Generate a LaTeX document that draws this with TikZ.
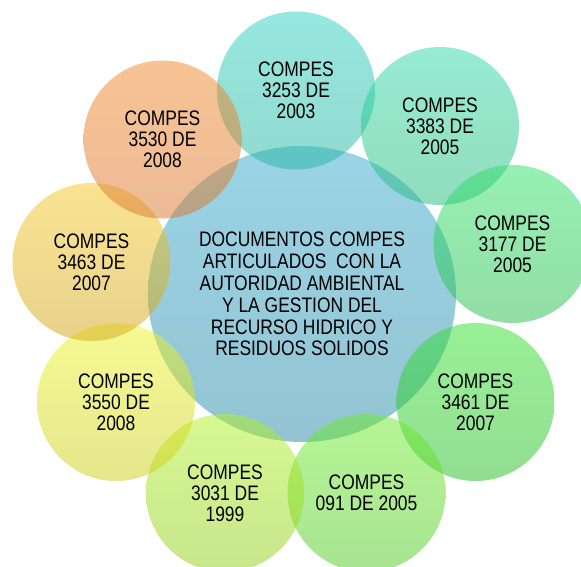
\documentclass[tikz,border=0pt]{standalone}
\usepackage{fontspec}
\newfontfamily\labfont{Liberation Sans}[FakeStretch=0.83]
\usetikzlibrary{shapes.geometric}
\definecolor{cenT}{RGB}{53,169,205}\definecolor{cenB}{RGB}{41,137,165}
\definecolor{aT}{RGB}{45,209,193}\definecolor{aB}{RGB}{37,180,160}
\definecolor{bT}{RGB}{45,217,165}\definecolor{bB}{RGB}{37,185,125}
\definecolor{cT}{RGB}{45,225,105}\definecolor{cB}{RGB}{37,189,75}
\definecolor{dT}{RGB}{49,225,45}\definecolor{dB}{RGB}{37,189,35}
\definecolor{eT}{RGB}{109,235,45}\definecolor{eB}{RGB}{81,201,35}
\definecolor{fT}{RGB}{175,241,37}\definecolor{fB}{RGB}{145,205,25}
\definecolor{gT}{RGB}{237,245,37}\definecolor{gB}{RGB}{205,205,25}
\definecolor{hT}{RGB}{245,201,37}\definecolor{hB}{RGB}{209,165,25}
\definecolor{iT}{RGB}{241,137,41}\definecolor{iB}{RGB}{217,117,45}
\tikzset{
  bubble/.style={circle, minimum size=158pt, inner sep=0pt, fill opacity=0.5, text opacity=1,
    align=center, font=\labfont\fontsize{21}{21}\selectfont},
  hub/.style={ellipse, minimum width=308pt, minimum height=296pt, inner sep=0pt,
    fill opacity=0.5, text opacity=1, align=center,
    font=\labfont\fontsize{21}{21.9}\selectfont, top color=cenT, bottom color=cenB}
}
\begin{document}
\begin{tikzpicture}[x=1pt,y=-1pt]
\useasboundingbox (0,0) rectangle (581,567);
\node[hub] (hub) at (302,294) {DOCUMENTOS COMPES\\ARTICULADOS\ \ CON LA\\AUTORIDAD AMBIENTAL\\Y LA GESTION DEL\\RECURSO HIDRICO Y\\RESIDUOS SOLIDOS};
\node[bubble, top color=aT, bottom color=aB] (c3253) at (296,90.5) {COMPES\\3253 DE\\2003};
\node[bubble, top color=bT, bottom color=bB] (c3383) at (440,126) {COMPES\\3383 DE\\2005};
\node[bubble, top color=cT, bottom color=cB] (c3177) at (512.5,244) {COMPES\\3177 DE\\2005};
\node[bubble, top color=dT, bottom color=dB] (c3461) at (475.5,402) {COMPES\\3461 DE\\2007};
\node[bubble, top color=eT, bottom color=eB] (c091) at (366.5,493) {COMPES\\091 DE 2005};
\node[bubble, top color=fT, bottom color=fB] (c3031) at (225,493) {COMPES\\3031 DE\\1999};
\node[bubble, top color=gT, bottom color=gB] (c3550) at (116,402) {COMPES\\3550 DE\\2008};
\node[bubble, top color=hT, bottom color=hB] (c3463) at (91.5,262) {COMPES\\3463 DE\\2007};
\node[bubble, top color=iT, bottom color=iB] (c3530) at (162.5,139.5) {COMPES\\3530 DE\\2008};
\end{tikzpicture}
\end{document}
